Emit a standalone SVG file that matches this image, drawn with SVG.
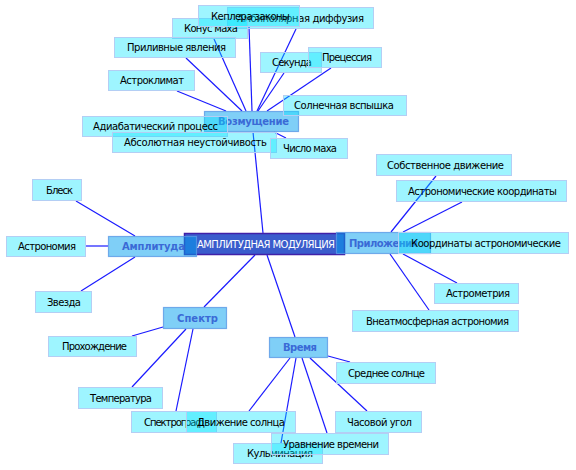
<svg xmlns="http://www.w3.org/2000/svg" width="576" height="470" viewBox="0 0 576 470">
<style>
.leaf rect{fill:#00e4ff;fill-opacity:0.38;stroke:#b4cef4;stroke-width:1}
.leaf text{font-family:"DejaVu Sans",sans-serif;font-size:10px;fill:#000}
.cat rect{fill:#00a0f0;fill-opacity:0.5;stroke:#5a9ae6;stroke-opacity:0.8;stroke-width:1.2}
.cat text{font-family:"DejaVu Sans",sans-serif;font-size:10px;font-weight:bold;fill:#3a6ad6}
.main rect{fill:#3a5ccc;stroke:#4020a8;stroke-width:1.5}
.main text{font-family:"DejaVu Sans",sans-serif;font-size:10px;fill:#fff}
#connectors line{stroke:#1a1aff;stroke-width:1.2}
</style>
<rect width="576" height="470" fill="#fff"/>
<g id="connectors">
<line x1="263" y1="233" x2="253" y2="132"/>
<line x1="255" y1="255" x2="204" y2="307"/>
<line x1="267" y1="255" x2="295" y2="337"/>
<line x1="177" y1="91" x2="226" y2="111"/>
<line x1="186" y1="58" x2="242" y2="111"/>
<line x1="214" y1="39" x2="246" y2="111"/>
<line x1="249" y1="27" x2="252" y2="111"/>
<line x1="296" y1="29" x2="257" y2="111"/>
<line x1="284" y1="73" x2="258" y2="111"/>
<line x1="331" y1="68" x2="267" y2="111"/>
<line x1="274" y1="132" x2="286" y2="138"/>
<line x1="76" y1="201" x2="135" y2="236"/>
<line x1="86" y1="246" x2="108" y2="246"/>
<line x1="81" y1="291" x2="135" y2="257"/>
<line x1="436" y1="176" x2="391" y2="232"/>
<line x1="462" y1="202" x2="403" y2="232"/>
<line x1="403" y1="254" x2="457" y2="283"/>
<line x1="390" y1="254" x2="429" y2="310"/>
<line x1="163" y1="327" x2="132" y2="336"/>
<line x1="186" y1="329" x2="132" y2="387"/>
<line x1="193" y1="329" x2="176" y2="411"/>
<line x1="328" y1="356" x2="350" y2="362"/>
<line x1="290" y1="358" x2="249" y2="411"/>
<line x1="296" y1="358" x2="281" y2="443"/>
<line x1="302" y1="358" x2="327" y2="433"/>
<line x1="310" y1="358" x2="367" y2="411"/>
</g>
<g id="n-main" class="main"><rect x="184.5" y="233.5" width="160" height="21"/><text x="197" y="247.5" textLength="138" lengthAdjust="spacing">АМПЛИТУДНАЯ МОДУЛЯЦИЯ</text></g>
<g id="n-amplituda" class="cat"><rect x="108.5" y="236.5" width="88" height="20"/><text x="122" y="250" textLength="63" lengthAdjust="spacing">Амплитуда</text></g>
<g id="n-prilozheniya" class="cat"><rect x="336.5" y="232.5" width="94" height="21"/><text x="349" y="246.5" textLength="69" lengthAdjust="spacing">Приложения</text></g>
<g id="n-koord2" class="leaf"><rect x="398.5" y="232.5" width="170" height="21"/><text x="411" y="246.5" textLength="150" lengthAdjust="spacing">Координаты астрономические</text></g>
<g id="n-vozmushenie" class="cat"><rect x="204.5" y="111.5" width="94" height="20"/><text x="218" y="125" textLength="71" lengthAdjust="spacing">Возмущение</text></g>
<g id="n-ambipol" class="leaf"><rect x="227.5" y="7.5" width="146" height="21"/><text x="237" y="21.5" textLength="127" lengthAdjust="spacing">Амбиполярная диффузия</text></g>
<g id="n-konus" class="leaf"><rect x="172.5" y="18.5" width="75" height="20"/><text x="184" y="32" textLength="54" lengthAdjust="spacing">Конус маха</text></g>
<g id="n-kepler" class="leaf"><rect x="198.5" y="5.5" width="101" height="21"/><text x="211" y="19.5" textLength="79" lengthAdjust="spacing">Кеплера законы</text></g>
<g id="n-prilivnye" class="leaf"><rect x="114.5" y="37.5" width="121" height="20"/><text x="127" y="51" textLength="99" lengthAdjust="spacing">Приливные явления</text></g>
<g id="n-astroklimat" class="leaf"><rect x="108.5" y="70.5" width="86" height="20"/><text x="120" y="84" textLength="64" lengthAdjust="spacing">Астроклимат</text></g>
<g id="n-sekunda" class="leaf"><rect x="260.5" y="52.5" width="61" height="20"/><text x="272" y="66" textLength="40" lengthAdjust="spacing">Секунда</text></g>
<g id="n-precessiya" class="leaf"><rect x="308.5" y="47.5" width="73" height="20"/><text x="322" y="61" textLength="50" lengthAdjust="spacing">Прецессия</text></g>
<g id="n-solnvspyshka" class="leaf"><rect x="283.5" y="95.5" width="123" height="20"/><text x="294" y="109" textLength="100" lengthAdjust="spacing">Солнечная вспышка</text></g>
<g id="n-adiabat" class="leaf"><rect x="82.5" y="116.5" width="145" height="20"/><text x="93" y="130" textLength="125" lengthAdjust="spacing">Адиабатический процесс</text></g>
<g id="n-absolut" class="leaf"><rect x="112.5" y="132.5" width="164" height="20"/><text x="124" y="146" textLength="143" lengthAdjust="spacing">Абсолютная неустойчивость</text></g>
<g id="n-chislomaha" class="leaf"><rect x="270.5" y="138.5" width="77" height="20"/><text x="283" y="152" textLength="54" lengthAdjust="spacing">Число маха</text></g>
<g id="n-sobstv" class="leaf"><rect x="376.5" y="154.5" width="135" height="21"/><text x="387" y="168.5" textLength="117" lengthAdjust="spacing">Собственное движение</text></g>
<g id="n-astrokoord" class="leaf"><rect x="396.5" y="180.5" width="170" height="21"/><text x="408" y="194.5" textLength="149" lengthAdjust="spacing">Астрономические координаты</text></g>
<g id="n-astrometriya" class="leaf"><rect x="434.5" y="283.5" width="84" height="20"/><text x="446" y="297" textLength="64" lengthAdjust="spacing">Астрометрия</text></g>
<g id="n-vneatm" class="leaf"><rect x="352.5" y="310.5" width="166" height="21"/><text x="366" y="324.5" textLength="143" lengthAdjust="spacing">Внеатмосферная астрономия</text></g>
<g id="n-blesk" class="leaf"><rect x="32.5" y="179.5" width="49" height="21"/><text x="46" y="193.5" textLength="27" lengthAdjust="spacing">Блеск</text></g>
<g id="n-astronomiya" class="leaf"><rect x="6.5" y="236.5" width="79" height="20"/><text x="18" y="250" textLength="58" lengthAdjust="spacing">Астрономия</text></g>
<g id="n-zvezda" class="leaf"><rect x="35.5" y="291.5" width="56" height="21"/><text x="47" y="305.5" textLength="34" lengthAdjust="spacing">Звезда</text></g>
<g id="n-spektr" class="cat"><rect x="163.5" y="307.5" width="63" height="21"/><text x="177" y="321.5" textLength="41" lengthAdjust="spacing">Спектр</text></g>
<g id="n-prohozhdenie" class="leaf"><rect x="48.5" y="336.5" width="88" height="20"/><text x="62" y="350" textLength="65" lengthAdjust="spacing">Прохождение</text></g>
<g id="n-temperatura" class="leaf"><rect x="78.5" y="387.5" width="84" height="21"/><text x="90" y="401.5" textLength="62" lengthAdjust="spacing">Температура</text></g>
<g id="n-spektrograf" class="leaf"><rect x="131.5" y="411.5" width="85" height="21"/><text x="144" y="425.5" textLength="60" lengthAdjust="spacing">Спектрограф</text></g>
<g id="n-dvizhsolnca" class="leaf"><rect x="186.5" y="411.5" width="109" height="21"/><text x="197" y="425.5" textLength="88" lengthAdjust="spacing">Движение солнца</text></g>
<g id="n-vremya" class="cat"><rect x="269.5" y="337.5" width="58" height="20"/><text x="283" y="351" textLength="34" lengthAdjust="spacing">Время</text></g>
<g id="n-srednee" class="leaf"><rect x="336.5" y="362.5" width="99" height="21"/><text x="348" y="376.5" textLength="77" lengthAdjust="spacing">Среднее солнце</text></g>
<g id="n-chasovoy" class="leaf"><rect x="335.5" y="411.5" width="86" height="21"/><text x="347" y="425.5" textLength="65" lengthAdjust="spacing">Часовой угол</text></g>
<g id="n-kulminaciya" class="leaf"><rect x="233.5" y="443.5" width="89" height="20"/><text x="247" y="457" textLength="66" lengthAdjust="spacing">Кульминация</text></g>
<g id="n-uravnenie" class="leaf"><rect x="271.5" y="433.5" width="117" height="21"/><text x="283" y="447.5" textLength="96" lengthAdjust="spacing">Уравнение времени</text></g>
</svg>
